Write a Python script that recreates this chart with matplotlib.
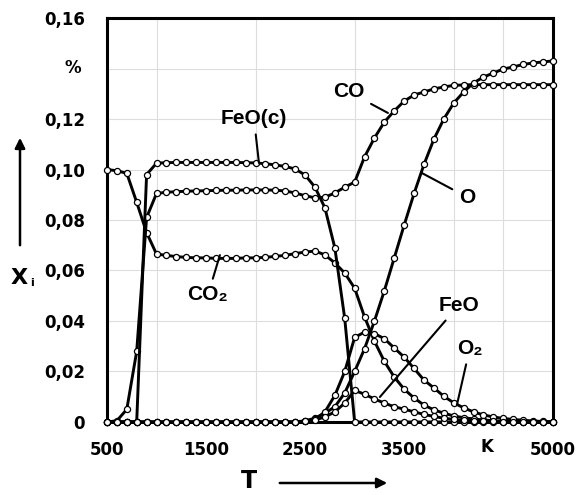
import matplotlib
matplotlib.use('Agg')
import matplotlib.pyplot as plt

# temperature grid, K
T = list(range(500, 5001, 100))

# mole fractions
co2 = [0.1000, 0.0995, 0.0985, 0.0870, 0.0750, 0.0665, 0.0660, 0.0655, 0.0652, 0.0650,
       0.0650, 0.0648, 0.0648, 0.0648, 0.0650, 0.0650, 0.0652, 0.0656, 0.0660, 0.0667,
       0.0673, 0.0677, 0.0662, 0.0630, 0.0590, 0.0530, 0.0416, 0.0320, 0.0240, 0.0178,
       0.0130, 0.0095, 0.0067, 0.0048, 0.0035, 0.0024, 0.0017, 0.0012, 0.0008, 0.0005,
       0.0003, 0.0002, 0.0001, 0.0001, 0.0, 0.0]
co = [0.0, 0.0005, 0.0050, 0.0280, 0.0810, 0.0905, 0.0910, 0.0912, 0.0914, 0.0915,
      0.0916, 0.0917, 0.0918, 0.0918, 0.0919, 0.0919, 0.0919, 0.0918, 0.0915, 0.0907,
      0.0896, 0.0888, 0.0890, 0.0907, 0.0930, 0.0950, 0.1050, 0.1125, 0.1188, 0.1232,
      0.1271, 0.1295, 0.1307, 0.1319, 0.1327, 0.1333, 0.1335, 0.1336, 0.1336, 0.1336,
      0.1336, 0.1336, 0.1336, 0.1336, 0.1336, 0.1336]
feo_c = [0.0, 0.0, 0.0, 0.0, 0.0980, 0.1025, 0.1027, 0.1028, 0.1028, 0.1028,
         0.1028, 0.1028, 0.1028, 0.1028, 0.1027, 0.1026, 0.1023, 0.1018, 0.1012, 0.1002,
         0.0978, 0.0930, 0.0848, 0.0690, 0.0410, 0.0, 0.0, 0.0, 0.0, 0.0,
         0.0, 0.0, 0.0, 0.0, 0.0, 0.0, 0.0, 0.0, 0.0, 0.0,
         0.0, 0.0, 0.0, 0.0, 0.0, 0.0]
o = [0.0] * 20 + [0.0005, 0.0015, 0.0035, 0.0060, 0.0115, 0.0200, 0.0290, 0.0400, 0.0520, 0.0650,
                  0.0780, 0.0905, 0.1020, 0.1120, 0.1200, 0.1263, 0.1307, 0.1343, 0.1366, 0.1382,
                  0.1398, 0.1406, 0.1416, 0.1422, 0.1426, 0.1430]
o2 = [0.0] * 20 + [0.0003, 0.0010, 0.0040, 0.0105, 0.0200, 0.0335, 0.0356, 0.0350, 0.0330, 0.0293,
                   0.0257, 0.0212, 0.0166, 0.0135, 0.0102, 0.0076, 0.0056, 0.0040, 0.0028, 0.0020,
                   0.0014, 0.0010, 0.0007, 0.0004, 0.0002, 0.0001]
feo = [0.0] * 20 + [0.0002, 0.0008, 0.0020, 0.0040, 0.0075, 0.0125, 0.0110, 0.0091, 0.0075, 0.0060,
                    0.0051, 0.0040, 0.0030, 0.0022, 0.0015, 0.0010, 0.0007, 0.0005, 0.0003, 0.0002,
                    0.0001, 0.0, 0.0, 0.0, 0.0, 0.0]

y_ticks = [0, 0.02, 0.04, 0.06, 0.08, 0.10, 0.12, 0.14, 0.16]
y_labels = ['0', '0,02', '0,04', '0,06', '0,08', '0,10', '0,12', '', '0,16']
x_ticks = [500, 1500, 2500, 3500, 5000]
x_labels = ['500', '1500', '2500', '3500', '5000']

plt.rcParams['font.family'] = ['Liberation Sans', 'DejaVu Sans']

fig = plt.figure(figsize=(5.77, 4.95), dpi=100)
ax = fig.add_axes([0.1854, 0.1475, 0.7726, 0.8161])

style = dict(color='black', lw=2.1, marker='o', markersize=4.4, markerfacecolor='white',
             markeredgecolor='black', markeredgewidth=0.9, clip_on=False, zorder=3)
for series in [co2, co, feo_c, o, o2, feo]:
    ax.plot(T, series, **style)

ax.set_xlim(500, 5000)
ax.set_ylim(0, 0.16)
ax.set_xticks(x_ticks)
ax.set_xticklabels(x_labels)
ax.set_xticks(range(500, 5001, 500), minor=True)
ax.set_yticks(y_ticks)
ax.set_yticklabels(y_labels)
ax.tick_params(which='both', length=0)
ax.tick_params(axis='x', pad=14)
ax.tick_params(axis='y', pad=16)
for lab in ax.get_xticklabels() + ax.get_yticklabels():
    lab.set_fontfamily('DejaVu Sans')
    lab.set_fontweight('bold')
    lab.set_fontsize(12)
ax.grid(which='minor', axis='x', color='#dddddd', lw=0.8)
ax.grid(which='major', axis='y', color='#dddddd', lw=0.8)
for sp in ax.spines.values():
    sp.set_linewidth(2.2)

# curve labels with leader lines
lbl = dict(fontsize=15, fontweight='bold', ha='center', va='center',
           arrowprops=dict(arrowstyle='-', lw=1.5, color='black', shrinkA=3, shrinkB=0))
ax.annotate('FeO(c)', xy=(2034, 0.1026), xytext=(1983, 0.1204), **lbl)
ax.annotate('CO', xy=(3336, 0.1224), xytext=(2942, 0.1307), **lbl)
ax.annotate('O', xy=(3679, 0.0986), xytext=(4133, 0.0891), **lbl)
ax.annotate('CO₂', xy=(1640, 0.0661), xytext=(1519, 0.0503), **lbl)
ax.annotate('FeO', xy=(3255, 0.0099), xytext=(4052, 0.0463), **lbl)
ax.annotate('O₂', xy=(4032, 0.0067), xytext=(4163, 0.0293), **lbl)

# unit marks and axis symbols
fig.text(73 / 577, 1 - 68 / 495, '%', ha='center', va='center', fontsize=12,
         fontweight='bold', family='DejaVu Sans')
fig.text(487 / 577, 1 - 447 / 495, 'K', ha='center', va='center', fontsize=12,
         fontweight='bold', family='DejaVu Sans')
fig.text(19 / 577, 1 - 278 / 495, 'X', ha='center', va='center', fontsize=16,
         fontweight='bold', family='DejaVu Sans')
fig.text(32 / 577, 1 - 283 / 495, 'i', ha='center', va='center', fontsize=8,
         fontweight='bold', family='DejaVu Sans')
fig.text(249 / 577, 1 - 481 / 495, 'T', ha='center', va='center', fontsize=17,
         fontweight='bold', family='DejaVu Sans')
fig.patches.append(matplotlib.patches.FancyArrowPatch(
    (20 / 577, 1 - 248 / 495), (20 / 577, 1 - 135 / 495), transform=fig.transFigure,
    arrowstyle='-|>,head_length=6,head_width=3', lw=1.8, color='black'))
fig.patches.append(matplotlib.patches.FancyArrowPatch(
    (277 / 577, 1 - 483 / 495), (390 / 577, 1 - 483 / 495), transform=fig.transFigure,
    arrowstyle='-|>,head_length=6,head_width=3', lw=1.8, color='black'))

fig.savefig('out.png', dpi=100)
